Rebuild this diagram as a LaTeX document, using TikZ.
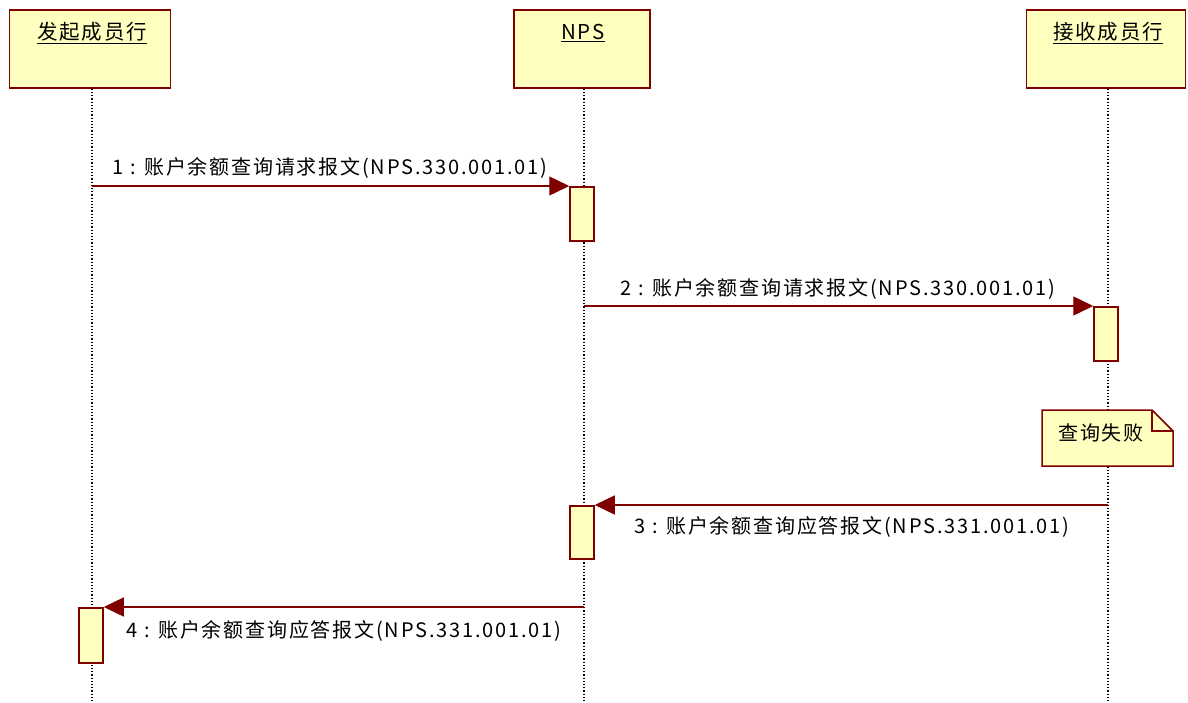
\documentclass[tikz,border=0pt]{standalone}
\usepackage{fontspec}
\setmainfont{Noto Sans CJK SC}
\newfontfamily\lblfont[LetterSpace=9]{Noto Sans CJK SC}
\usetikzlibrary{arrows.meta}
\definecolor{boxfill}{HTML}{FFFFC0}
\definecolor{boxline}{HTML}{800000}
\begin{document}
\begin{tikzpicture}[x=1pt,y=-1pt,
  obj/.style={draw=boxline,fill=boxfill,line width=1.5pt,inner sep=0pt,minimum width=#1,minimum height=78pt},
  act/.style={draw=boxline,fill=boxfill,line width=1.5pt,inner sep=0pt,minimum width=24pt,minimum height=#1,anchor=north},
  life/.style={draw=black,dotted,line width=1.2pt},
  msg/.style={draw=boxline,line width=1.4pt,-{Triangle[length=20pt,width=19pt]}},
  lbl/.style={font=\lblfont\fontsize{20}{24}\selectfont,inner sep=0pt,text=black},
  ttl/.style={font=\lblfont\fontsize{20.5}{24}\selectfont,inner sep=0pt,text=black}]
\useasboundingbox (0,0) rectangle (1188,702);
% lifeline ends
\coordinate (e1) at (92,702);
\coordinate (e2) at (584,702);
\coordinate (e3) at (1108,702);
% objects
\node[obj=161pt] (o1) at (90,49) {};
\node[obj=136pt] (o2) at (582,49) {};
\node[obj=159pt] (o3) at (1106,49) {};
\node[ttl] (t1) at (92,33) {\underline{发起成员行}};
\node[ttl] (t2) at (583,33) {\underline{NPS}};
\node[ttl] (t3) at (1108,33) {\underline{接收成员行}};
% lifelines
\draw[life] (o1.south -| e1) -- (e1);
\draw[life] (o2.south -| e2) -- (e2);
\draw[life] (o3.south -| e3) -- (e3);
% note
\draw[draw=boxline,fill=boxfill,line width=1.5pt] (1042,410) -- (1152,410) -- (1173,431) -- (1173,466) -- (1042,466) -- cycle;
\draw[draw=boxline,line width=1.5pt] (1152,410) -- (1152,431) -- (1173,431);
\node[lbl] (n1) at (1101,433) {查询失败};
% activations
\node[act=54pt] (a1) at (582,186) {};
\node[act=54pt] (a2) at (1106,306) {};
\node[act=53pt] (a3) at (582,505) {};
\node[act=55pt] (a4) at (91,607) {};
% message start points
\coordinate (s1) at (92,186);
\coordinate (s2) at (584,306);
\coordinate (s3) at (1108,505);
\coordinate (s4) at (584,607);
\draw[msg] (s1) -- (a1.north west);
\draw[msg] (s2) -- (a2.north west);
\draw[msg] (s3) -- (a3.north east);
\draw[msg] (s4) -- (a4.north east);
% labels
\node[lbl] (l1) at (330,168) {1 : 账户余额查询请求报文(NPS.330.001.01)};
\node[lbl] (l2) at (838,289) {2 : 账户余额查询请求报文(NPS.330.001.01)};
\node[lbl] (l3) at (852,527) {3 : 账户余额查询应答报文(NPS.331.001.01)};
\node[lbl] (l4) at (344,631) {4 : 账户余额查询应答报文(NPS.331.001.01)};
\end{tikzpicture}
\end{document}
